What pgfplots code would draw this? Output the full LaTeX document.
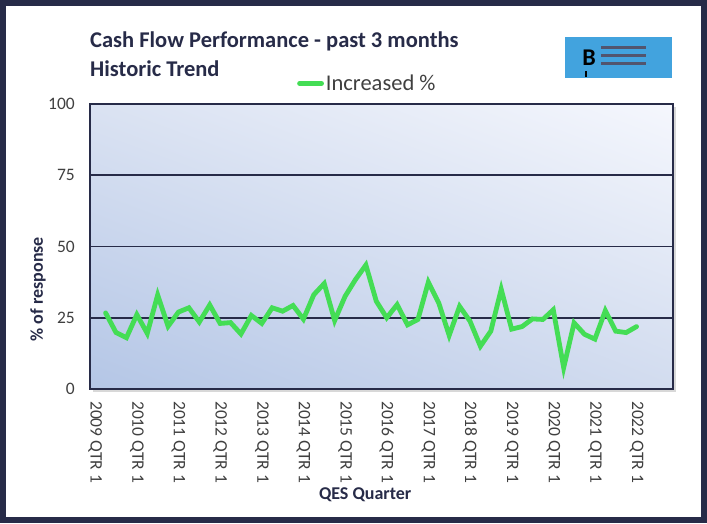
\documentclass[border=0pt]{standalone}
\usepackage{pgfplots}
\pgfplotsset{compat=1.18}
\usepackage{fontspec}
\setmainfont{Carlito}
\usetikzlibrary{shadings,shadows}

\definecolor{navy}{HTML}{272B48}
\definecolor{tickgray}{HTML}{404040}
\definecolor{linegreen}{HTML}{44DD55}
\definecolor{logoblue}{HTML}{42A3DE}

\begin{document}
\begin{tikzpicture}[x=1pt,y=1pt]
\useasboundingbox (0,0) rectangle (707,523);
\fill[white] (0,0) rectangle (707,523);

\begin{axis}[
  at={(90pt,134pt)}, anchor=south west,
  width=583pt, height=285pt, scale only axis,
  xmin=-0.5, xmax=55.5,
  ymin=0, ymax=100,
  ytick={0,25,50,75,100},
  xtick={0,4,...,52},
  xticklabels={2009 QTR 1,2010 QTR 1,2011 QTR 1,2012 QTR 1,2013 QTR 1,2014 QTR 1,2015 QTR 1,2016 QTR 1,2017 QTR 1,2018 QTR 1,2019 QTR 1,2020 QTR 1,2021 QTR 1,2022 QTR 1},
  major tick length=0pt,
  ymajorgrids,
  major grid style={navy, line width=1.8pt},
  axis line style={navy, line width=2.2pt},
  axis background/.style={shade,
    lower left={rgb,255:red,180;green,198;blue,230},
    upper left={rgb,255:red,218;green,226;blue,242},
    lower right={rgb,255:red,210;green,220;blue,239},
    upper right={rgb,255:red,245;green,247;blue,253},
    drop shadow={shadow xshift=3pt, shadow yshift=-3pt, opacity=0.3}},
  /pgf/number format/assume math mode=true,
  tick label style={font=\fontsize{17.5}{20}\selectfont, text=tickgray},
  yticklabel style={anchor=east, inner sep=0pt, xshift=-15pt},
  xticklabel style={yshift=-12pt, rotate=-90, anchor=west, inner sep=0pt},
  xlabel={QES Quarter},
  ylabel={\% of response},
  label style={font=\bfseries\fontsize{18}{20}\selectfont, text=navy},
  xlabel style={at={(axis description cs:0.472,-0.37)}, anchor=center},
  ylabel style={at={(axis description cs:-0.089,0.35)}, anchor=center, rotate=0},
  legend style={at={(axis description cs:0.355,1.072)}, anchor=west,
    draw=none, fill=none, inner sep=0pt,
    font=\fontsize{22.5}{24}\selectfont, text=tickgray,
    /tikz/every even column/.append style={column sep=0pt}},
  legend cell align=left,
  legend image code/.code={\draw[#1, line cap=round] (0pt,0pt) -- (22pt,0pt);},
  clip=false,
]
\addplot[linegreen, line width=4.8pt, line cap=round, line join=miter, mark=none]
coordinates {
(1,26.7) (2,19.8) (3,18.0) (4,26.1) (5,19.5) (6,33.0) (7,22.0) (8,27.0)
(9,28.5) (10,23.5) (11,29.5) (12,23.0) (13,23.3) (14,19.3) (15,25.8) (16,23.0)
(17,28.5) (18,27.3) (19,29.3) (20,24.5) (21,33.1) (22,37.0) (23,24.0) (24,32.5)
(25,38.4) (26,43.5) (27,30.8) (28,25.0) (29,29.6) (30,22.5) (31,24.4) (32,37.5)
(33,30.2) (34,18.8) (35,29.0) (36,23.8) (37,15.0) (38,20.3) (39,35.0) (40,21.0)
(41,21.9) (42,24.6) (43,24.4) (44,27.8) (45,7.5) (46,23.2) (47,19.2) (48,17.5)
(49,27.5) (50,20.3) (51,19.8) (52,21.9)
};
\addlegendentry{Increased \%}
\end{axis}

% titles
\node[anchor=west, inner sep=0pt, text=navy, font=\bfseries\fontsize{22.5}{26}\selectfont] at (90,482) {Cash Flow Performance - past 3 months};
\node[anchor=west, inner sep=0pt, text=navy, font=\bfseries\fontsize{22.5}{26}\selectfont] at (90,454) {Historic Trend};

% logo block
\fill[logoblue] (565,445) rectangle (672,486);
\node[font=\bfseries\fontsize{24}{24}\selectfont, text=black] at (589,465) {B};
\fill[black] (585,452) rectangle (587,446);
\foreach \yy in {474,466,458} \fill[navy!80] (601,\yy) rectangle (646,\yy+2.5);

% outer frame
\draw[navy, line width=6pt] (3,3) rectangle (704,520);
\end{tikzpicture}
\end{document}
